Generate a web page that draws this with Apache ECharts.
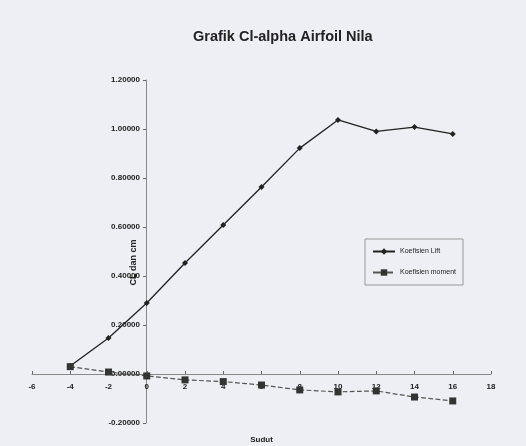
<!DOCTYPE html>
<html>
<head>
<meta charset="utf-8">
<script src="https://cdn.jsdelivr.net/npm/echarts@6/dist/echarts.min.js"></script>
<style>
  html, body { margin: 0; padding: 0; background: #eeeef5; }
  #main { width: 526px; height: 446px; }
</style>
</head>
<body>
<div id="main"></div>
<script>
// sudut (deg)
const sudut = [-4, -2, 0, 2, 4, 6, 8, 10, 12, 14, 16];
const koefLift = [0.033, 0.147, 0.29, 0.453, 0.608, 0.763, 0.922, 1.037, 0.99, 1.008, 0.98];
const koefMoment = [0.03, 0.008, -0.008, -0.024, -0.031, -0.045, -0.065, -0.073, -0.069, -0.094, -0.11];

const toPairs = (xs, ys) => xs.map((x, i) => [x, ys[i]]);

const chart = echarts.init(document.getElementById('main'));

const labelFont = {
  color: '#222',
  fontSize: 8,
  fontWeight: 'bold',
  fontFamily: 'Liberation Sans, Arial, sans-serif'
};

chart.setOption({
  backgroundColor: '#eeeef5',
  animation: false,
  title: {
    text: 'Grafik Cl-alpha Airfoil Nila',
    left: 188,
    top: 24,
    textStyle: {
      fontSize: 14.5,
      fontWeight: 'bold',
      color: '#222',
      fontFamily: 'Liberation Sans, Arial, sans-serif'
    }
  },
  legend: {
    orient: 'vertical',
    left: 365,
    top: 239,
    itemWidth: 22,
    itemHeight: 8,
    itemGap: 14,
    padding: [9, 7],
    borderColor: '#999',
    borderWidth: 1,
    textStyle: { fontSize: 7, color: '#222', fontFamily: 'Liberation Sans, Arial, sans-serif' },
    data: ['Koefisien Lift', 'Koefisien moment']
  },
  grid: {
    left: 32,
    right: 35,
    top: 80,
    bottom: 23,
    outerBoundsMode: 'none'
  },
  xAxis: {
    type: 'value',
    min: -6,
    max: 18,
    interval: 2,
    offset: -49,
    name: 'Sudut',
    nameLocation: 'middle',
    nameGap: 62,
    nameTextStyle: { ...labelFont, fontSize: 8 },
    axisLine: { onZero: false, lineStyle: { color: '#888', width: 1 } },
    axisTick: { inside: true, length: 3, lineStyle: { color: '#666' } },
    axisLabel: { ...labelFont, margin: 9 },
    splitLine: { show: false }
  },
  yAxis: {
    type: 'value',
    min: -0.2,
    max: 1.2,
    interval: 0.2,
    offset: -114,
    name: 'CL dan cm',
    nameLocation: 'middle',
    nameGap: 8,
    nameMoveOverlap: false,
    nameRotate: 90,
    nameTextStyle: { ...labelFont, fontSize: 9, padding: [0, 22, 0, 0] },
    axisLine: { onZero: false, lineStyle: { color: '#888', width: 1 } },
    axisTick: { length: 3, lineStyle: { color: '#666' } },
    axisLabel: {
      ...labelFont,
      margin: 6,
      formatter: v => v.toFixed(5)
    },
    splitLine: { show: false }
  },
  series: [
    {
      name: 'Koefisien Lift',
      type: 'line',
      data: toPairs(sudut, koefLift),
      symbol: 'diamond',
      symbolSize: 6,
      lineStyle: { color: '#222', width: 1.3 },
      itemStyle: { color: '#222' }
    },
    {
      name: 'Koefisien moment',
      type: 'line',
      data: toPairs(sudut, koefMoment),
      symbol: 'rect',
      symbolSize: 7,
      lineStyle: { color: '#555', width: 1.2, type: 'dashed' },
      itemStyle: { color: '#333' }
    }
  ]
});
</script>
</body>
</html>
